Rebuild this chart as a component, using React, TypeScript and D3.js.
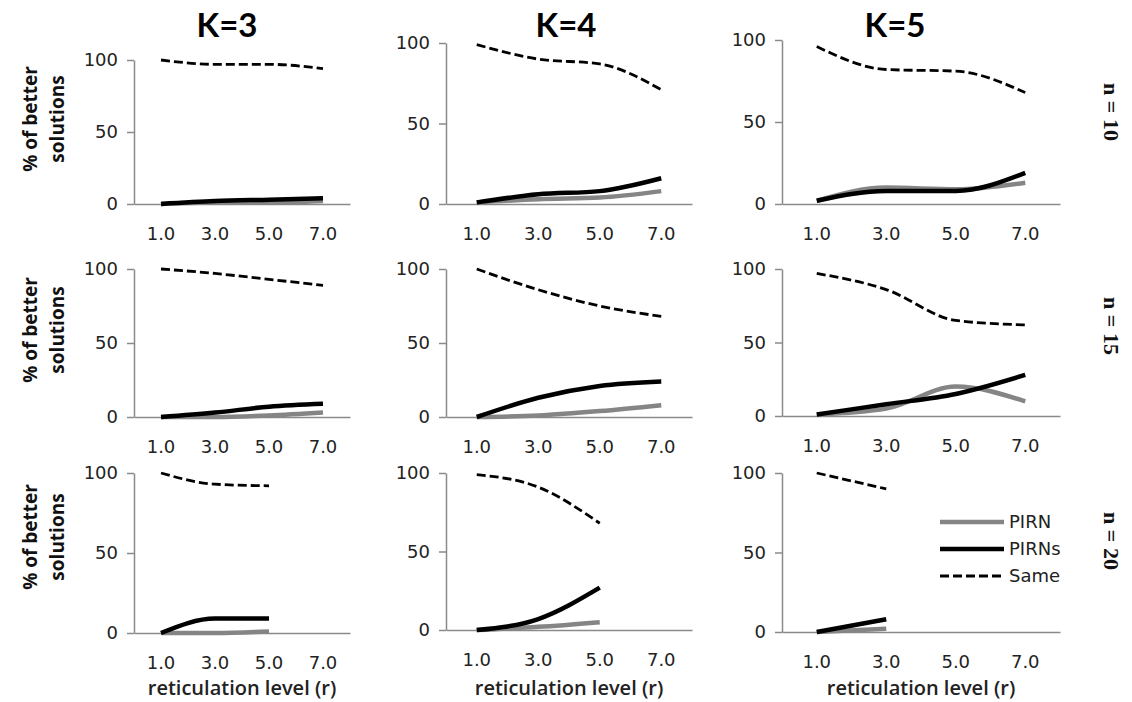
import React, { useEffect, useRef } from 'react';
import * as d3 from 'd3';

// reticulation levels on the x axis
const categories = ['1.0', '3.0', '5.0', '7.0'];
const kLabels = ['K=3', 'K=4', 'K=5'];
const nLabels = ['n = 10', 'n = 15', 'n = 20'];
const seriesNames = ['PIRN', 'PIRNs', 'Same'];
const yTicks = [0, 50, 100];

// values per row (n = 10, 15, 20), then per column (K = 3, 4, 5)
const pirn = [
  [[0, 1, 1, 2], [1, 3, 4, 8], [2, 10, 9, 13]],
  [[0, 0, 1, 3], [0, 1, 4, 8], [1, 5, 20, 10]],
  [[0, 0, 1], [0, 2, 5], [0, 2]],
];
const pirns = [
  [[0, 2, 3, 4], [1, 6, 8, 16], [2, 8, 8, 19]],
  [[0, 3, 7, 9], [0, 13, 21, 24], [1, 8, 15, 28]],
  [[0, 9, 9], [0, 7, 27], [0, 8]],
];
const same = [
  [[100, 97, 97, 94], [99, 90, 87, 71], [96, 82, 81, 68]],
  [[100, 97, 93, 89], [100, 86, 75, 68], [97, 86, 65, 62]],
  [[100, 93, 92], [99, 91, 68], [100, 90]],
];

// panel geometry
const colX = [[134, 350], [446, 692], [782, 1060]];
const rowY = [
  [[60, 204], [43, 204], [40, 204]],
  [[269, 417], [269, 417], [269, 416]],
  [[473, 633], [473, 630], [473, 632]],
];
const titleX = [227, 566, 895];
const nLabelY = [112, 326, 541];
const yTitleY = [119, 330, 537];

const GRAY = '#858585';
const AXIS = '#8a8a8a';
const TICK_FONT = '"DejaVu Sans", Verdana, sans-serif';
const BOLD_FONT = '"Open Sans", Arial, sans-serif';

const styles = [
  { stroke: GRAY, width: 4.5, dash: null },
  { stroke: '#000', width: 4.5, dash: null },
  { stroke: '#000', width: 2.8, dash: '9,4' },
];

const App = () => {
  const svgRef = useRef<SVGSVGElement>(null);

  useEffect(() => {
    const svg = d3.select(svgRef.current);
    svg.selectAll('*').remove();

    for (let r = 0; r < 3; r++) {
      for (let c = 0; c < 3; c++) {
        const [x0, x1] = colX[c];
        const [yTop, yBot] = rowY[r][c];
        const x = d3.scaleBand().domain(categories).range([x0, x1]);
        const y = d3.scaleLinear().domain([0, 100]).range([yBot, yTop]);
        const g = svg.append('g');

        // y axis
        const ya = g.append('g').attr('transform', `translate(${x0},0)`)
          .call(d3.axisLeft(y).tickValues(yTicks).tickSize(7).tickSizeOuter(0).tickPadding(9));
        ya.select('.domain').attr('stroke', AXIS).attr('stroke-width', 1.5);
        ya.selectAll('.tick line').attr('stroke', AXIS).attr('stroke-width', 1.5);
        ya.selectAll('.tick text').attr('font-family', TICK_FONT).attr('font-size', 18)
          .attr('fill', '#222');

        // x axis
        const xa = g.append('g').attr('transform', `translate(0,${yBot})`)
          .call(d3.axisBottom(x).tickSize(0).tickPadding(23));
        xa.select('.domain').attr('stroke', AXIS).attr('stroke-width', 1.5);
        xa.selectAll('.tick text').attr('font-family', TICK_FONT).attr('font-size', 18)
          .attr('fill', '#222');

        const seriesData = [pirn[r][c], pirns[r][c], same[r][c]];
        seriesData.forEach((vals, i) => {
          const line = d3.line<number>()
            .x((_, j) => (x(categories[j]) as number) + x.bandwidth() / 2)
            .y((v) => y(v))
            .curve(d3.curveMonotoneX);
          g.append('path')
            .attr('d', line(vals))
            .attr('fill', 'none')
            .attr('stroke', styles[i].stroke)
            .attr('stroke-width', styles[i].width)
            .attr('stroke-dasharray', styles[i].dash)
            .attr('stroke-linejoin', 'round');
        });

        if (r === 2) {
          g.append('text')
            .attr('x', (x0 + x1) / 2)
            .attr('y', 695)
            .attr('text-anchor', 'middle')
            .attr('font-family', BOLD_FONT)
            .attr('font-weight', 600)
            .attr('font-size', 20)
            .attr('fill', '#222')
            .text('reticulation level (r)');
        }
      }

      // y title, first column only
      const yt = svg.append('text')
        .attr('transform', `translate(0,${yTitleY[r]}) rotate(-90)`)
        .attr('text-anchor', 'middle')
        .attr('font-family', BOLD_FONT)
        .attr('font-weight', 700)
        .attr('font-size', 19)
        .attr('fill', '#111');
      yt.append('tspan').attr('x', 0).attr('y', 37).text('% of better');
      yt.append('tspan').attr('x', 0).attr('y', 64).text('solutions');

      // row label
      svg.append('text')
        .attr('transform', `translate(1104,${nLabelY[r]}) rotate(90)`)
        .attr('text-anchor', 'middle')
        .attr('font-family', '"Liberation Serif", "DejaVu Serif", serif')
        .attr('font-weight', 700)
        .attr('font-size', 22)
        .attr('fill', '#111')
        .text(nLabels[r]);
    }

    kLabels.forEach((k, c) => {
      svg.append('text')
        .attr('x', titleX[c])
        .attr('y', 37)
        .attr('text-anchor', 'middle')
        .attr('font-family', 'Lato, "Open Sans", sans-serif')
        .attr('font-weight', 700)
        .attr('font-size', 33)
        .attr('fill', '#000')
        .text(k);
    });

    // legend
    const legendY = d3.scalePoint().domain(seriesNames).range([522, 576]);
    seriesNames.forEach((name, i) => {
      const ly = legendY(name) as number;
      svg.append('line')
        .attr('x1', 940).attr('x2', 1004).attr('y1', ly).attr('y2', ly)
        .attr('stroke', styles[i].stroke)
        .attr('stroke-width', styles[i].width)
        .attr('stroke-dasharray', styles[i].dash);
      svg.append('text')
        .attr('x', 1009)
        .attr('y', ly)
        .attr('dy', '0.35em')
        .attr('font-family', TICK_FONT)
        .attr('font-size', 18)
        .attr('fill', '#222')
        .text(name);
    });
  }, []);

  return (
    <svg
      ref={svgRef}
      width={1132}
      height={702}
      style={{ position: 'absolute', left: 0, top: 0, background: '#fff' }}
    />
  );
};

export default App;
